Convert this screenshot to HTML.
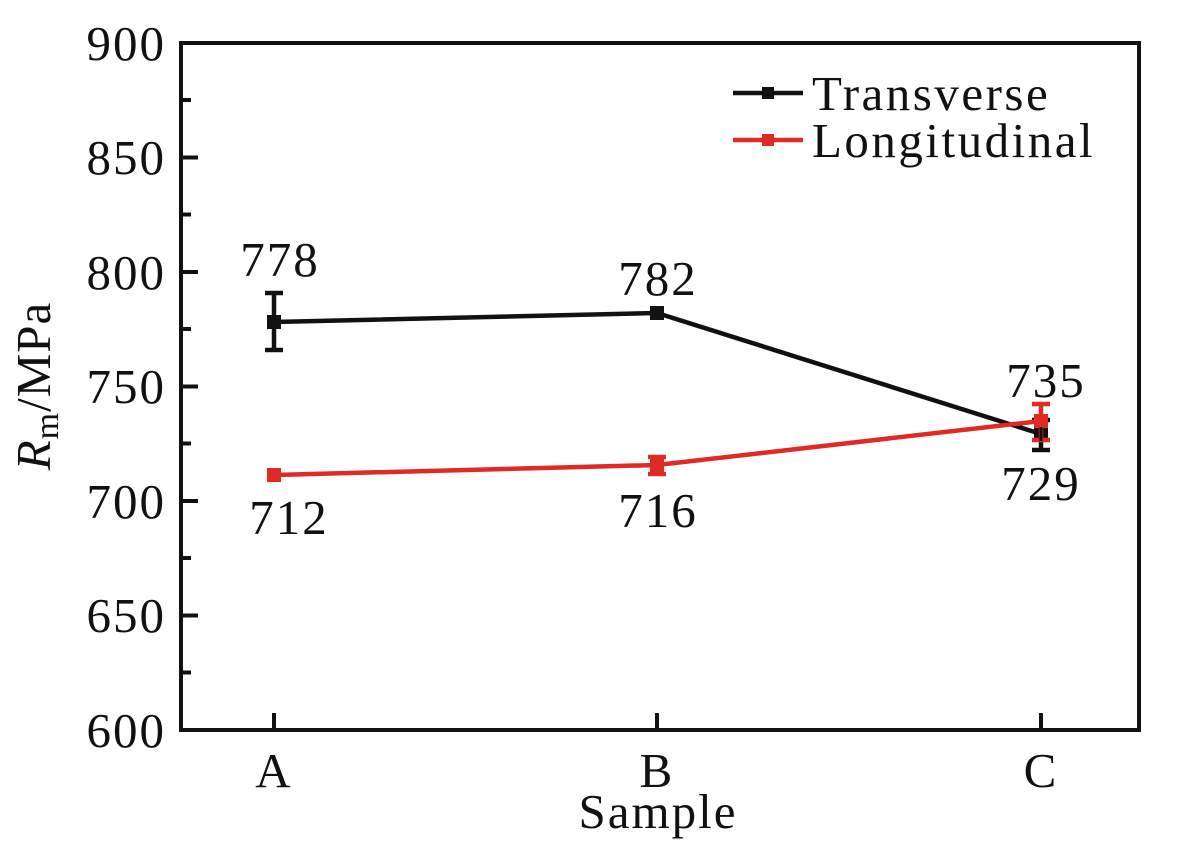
<!DOCTYPE html>
<html><head><meta charset="utf-8"><style>
html,body{margin:0;padding:0;background:#fff}
svg{display:block}
text{font-family:"Liberation Serif","DejaVu Serif",serif;fill:#111}
</style></head><body>
<svg width="1185" height="852" viewBox="0 0 1185 852" xmlns="http://www.w3.org/2000/svg">
<rect x="181" y="43" width="958" height="687" fill="none" stroke="#111" stroke-width="4"/>
<g stroke="#111" stroke-width="4">
<line x1="181" y1="157.5" x2="198" y2="157.5"/>
<line x1="181" y1="272" x2="198" y2="272"/>
<line x1="181" y1="386.5" x2="198" y2="386.5"/>
<line x1="181" y1="501" x2="198" y2="501"/>
<line x1="181" y1="615.5" x2="198" y2="615.5"/>
<line x1="181" y1="100" x2="191" y2="100"/>
<line x1="181" y1="214.5" x2="191" y2="214.5"/>
<line x1="181" y1="329" x2="191" y2="329"/>
<line x1="181" y1="443.5" x2="191" y2="443.5"/>
<line x1="181" y1="558" x2="191" y2="558"/>
<line x1="181" y1="672.5" x2="191" y2="672.5"/>
<line x1="274" y1="730" x2="274" y2="713"/>
<line x1="657" y1="730" x2="657" y2="713"/>
<line x1="1041" y1="730" x2="1041" y2="713"/>
</g>
<g font-size="49" text-anchor="end" letter-spacing="2">
<text x="166" y="60">900</text>
<text x="166" y="174">850</text>
<text x="166" y="289">800</text>
<text x="166" y="403">750</text>
<text x="166" y="518">700</text>
<text x="166" y="632">650</text>
<text x="166" y="747">600</text>
</g>
<g font-size="49" text-anchor="middle" letter-spacing="2">
<text x="274" y="787">A</text>
<text x="657" y="787">B</text>
<text x="1041" y="787">C</text>
<text x="658" y="828">Sample</text>
</g>
<text transform="translate(50,386) rotate(-90)" font-size="49" text-anchor="middle" letter-spacing="1"><tspan font-style="italic">R</tspan><tspan font-size="34" dy="8">m</tspan><tspan dy="-8">/MPa</tspan></text>
<!-- Transverse -->
<polyline points="274,322 657,313 1041,434" fill="none" stroke="#111" stroke-width="4.5"/>
<g stroke="#111" stroke-width="4.5">
<line x1="274" y1="293" x2="274" y2="350"/><line x1="265" y1="293" x2="283" y2="293"/><line x1="265" y1="350" x2="283" y2="350"/>
<line x1="1041" y1="420" x2="1041" y2="450"/><line x1="1032" y1="420" x2="1050" y2="420"/><line x1="1032" y1="450" x2="1050" y2="450"/>
</g>
<g fill="#111"><rect x="267" y="315" width="14" height="14"/><rect x="650" y="306" width="14" height="14"/><rect x="1034" y="427" width="14" height="14"/></g>
<!-- Longitudinal -->
<polyline points="274,475 657,465 1041,421" fill="none" stroke="#e02a24" stroke-width="4.5"/>
<g stroke="#e02a24" stroke-width="4.5">
<line x1="657" y1="457" x2="657" y2="474"/><line x1="648" y1="457" x2="666" y2="457"/><line x1="648" y1="474" x2="666" y2="474"/>
<line x1="1041" y1="404" x2="1041" y2="440"/><line x1="1032" y1="404" x2="1050" y2="404"/><line x1="1032" y1="440" x2="1050" y2="440"/>
</g>
<g fill="#e02a24"><rect x="267" y="468" width="14" height="14"/><rect x="650" y="458" width="14" height="14"/><rect x="1034" y="414" width="14" height="14"/></g>
<g stroke="#111" stroke-width="3"><line x1="1041" y1="427" x2="1041" y2="441"/></g>
<g font-size="49" text-anchor="middle" letter-spacing="2">
<text x="280" y="276">778</text>
<text x="658" y="295">782</text>
<text x="1046" y="397">735</text>
<text x="1041" y="500">729</text>
<text x="289" y="534">712</text>
<text x="658" y="527">716</text>
</g>
<line x1="733" y1="93" x2="803" y2="93" stroke="#111" stroke-width="4.5"/>
<rect x="762" y="87" width="12" height="12" fill="#111"/>
<line x1="733" y1="140" x2="803" y2="140" stroke="#e02a24" stroke-width="4.5"/>
<rect x="762" y="134" width="12" height="12" fill="#e02a24"/>
<text x="812" y="110" font-size="49" letter-spacing="2.5">Transverse</text>
<text x="812" y="157" font-size="49" letter-spacing="2.5">Longitudinal</text>
</svg>
</body></html>
